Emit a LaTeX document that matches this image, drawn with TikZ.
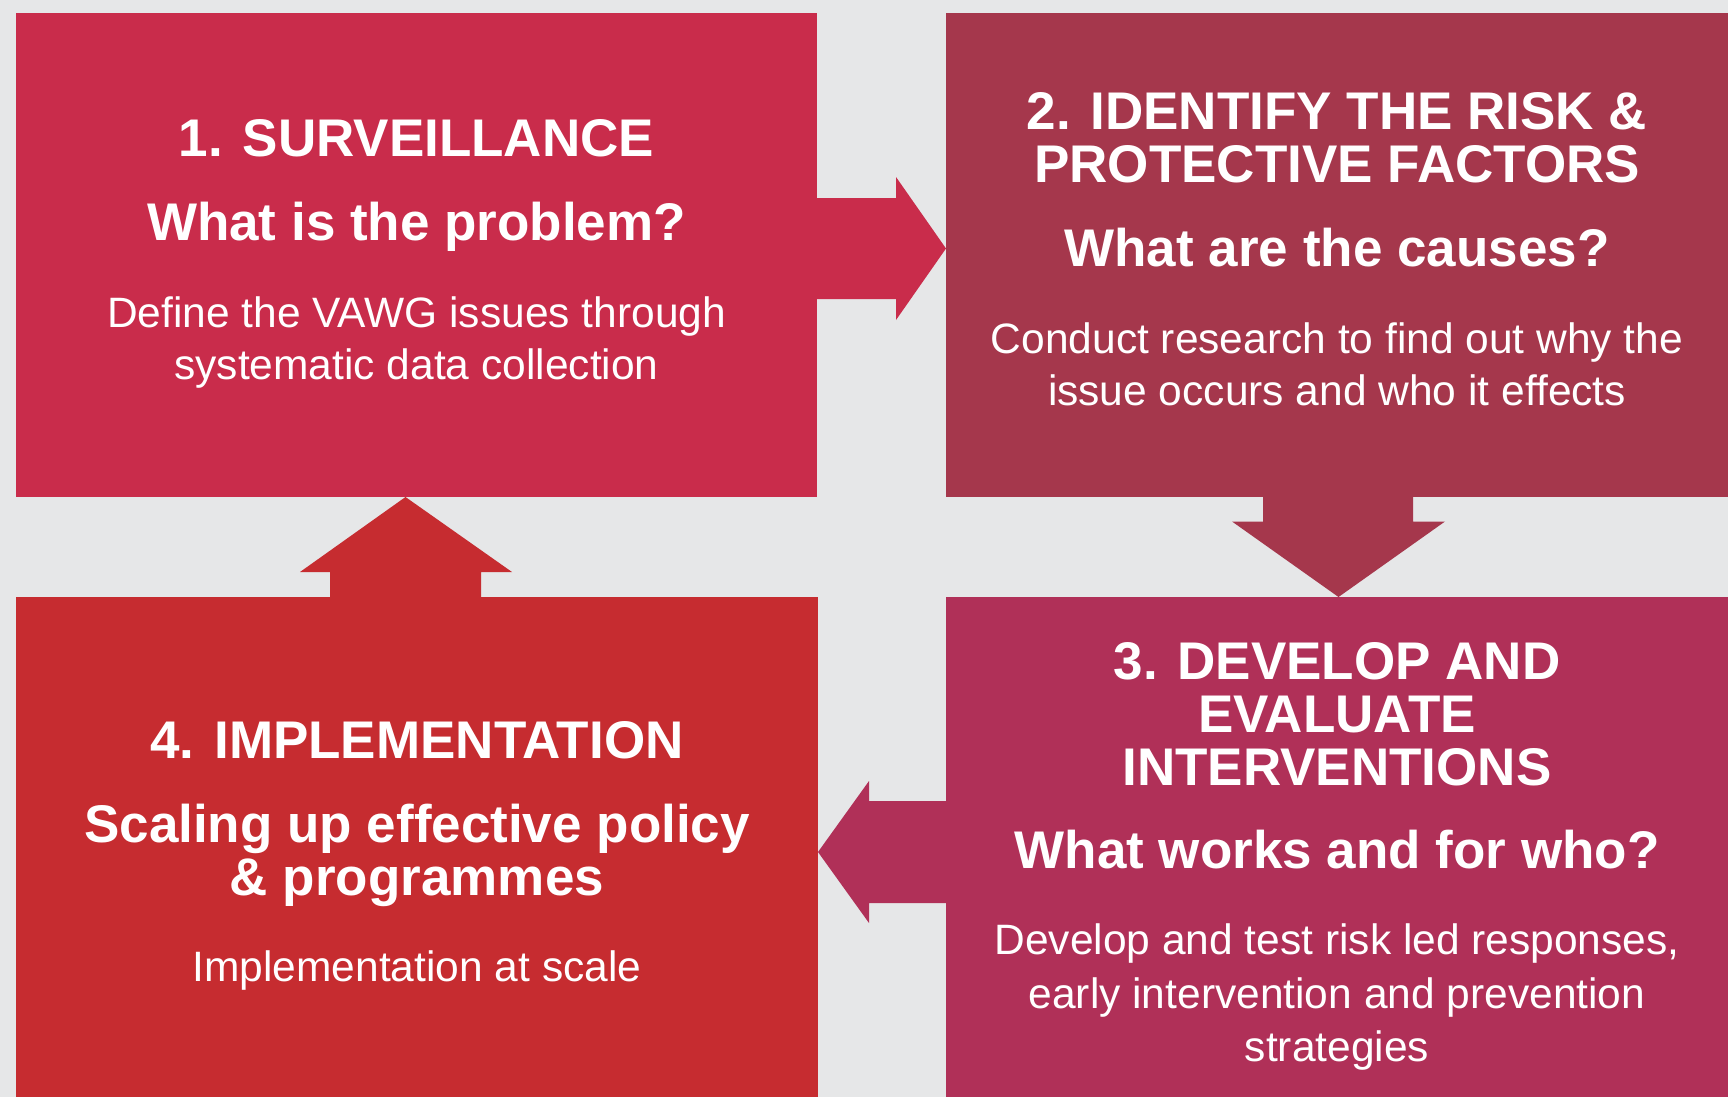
\documentclass[tikz,border=0pt]{standalone}
\usepackage{fontspec}
\setmainfont{Liberation Sans}
\usetikzlibrary{calc}
\definecolor{bg}{HTML}{E6E7E8}
\definecolor{cone}{HTML}{C92C4B}
\definecolor{ctwo}{HTML}{A5374C}
\definecolor{cthree}{HTML}{B03058}
\definecolor{cfour}{HTML}{C62C30}
\tikzset{
  panel/.style={draw=none, inner sep=0pt, outer sep=0pt, anchor=north west},
  ttl/.style={text=white, anchor=base, inner sep=0pt, font=\fontsize{53}{53}\selectfont\bfseries},
  bdy/.style={text=white, anchor=base, inner sep=0pt, font=\fontsize{42.5}{52}\selectfont},
}
\begin{document}
\begin{tikzpicture}[x=1pt,y=-1pt]
\fill[bg] (0,0) rectangle (1728,1097);
\useasboundingbox (0,0) rectangle (1728,1097);
% panels
\node[panel, fill=cone,   minimum width=801pt, minimum height=484pt] (b1) at (16,13) {};
\node[panel, fill=ctwo,   minimum width=782pt, minimum height=484pt] (b2) at (946,13) {};
\node[panel, fill=cthree, minimum width=782pt, minimum height=500pt] (b3) at (946,597) {};
\node[panel, fill=cfour,  minimum width=802pt, minimum height=500pt] (b4) at (16,597) {};
% arrow 1 -> 2
\fill[cone] ($(b1.north east)+(-1,185)$) -- ($(b1.north east)+(79,185)$) -- ($(b1.north east)+(79,164)$)
  -- ($(b2.north west)+(0,235.5)$) -- ($(b1.north east)+(79,307)$) -- ($(b1.north east)+(79,286)$)
  -- ($(b1.north east)+(-1,286)$) -- cycle;
% arrow 2 -> 3
\fill[ctwo] ($(b2.south west)+(317,-1)$) -- ($(b2.south west)+(317,24.5)$) -- ($(b2.south west)+(286,24.5)$)
  -- ($(b3.north west)+(392.5,0)$) -- ($(b2.south west)+(499,24.5)$) -- ($(b2.south west)+(467,24.5)$)
  -- ($(b2.south west)+(467,-1)$) -- cycle;
% arrow 3 -> 4
\fill[cthree] ($(b3.north west)+(1,204)$) -- ($(b3.north west)+(-77,204)$) -- ($(b3.north west)+(-77,184)$)
  -- ($(b4.north east)+(0,255)$) -- ($(b3.north west)+(-77,326)$) -- ($(b3.north west)+(-77,306)$)
  -- ($(b3.north west)+(1,306)$) -- cycle;
% arrow 4 -> 1
\fill[cfour] ($(b4.north west)+(314,1)$) -- ($(b4.north west)+(314,-25)$) -- ($(b4.north west)+(284,-25)$)
  -- ($(b1.south west)+(389.5,0)$) -- ($(b4.north west)+(496,-25)$) -- ($(b4.north west)+(465,-25)$)
  -- ($(b4.north west)+(465,1)$) -- cycle;
% texts box 1
\node[ttl] (t1a) at (416.5,157) {1. SURVEILLANCE};
\node[ttl] (t1q) at (416.5,240) {What is the problem?};
\node[bdy] (t1b) at (416.5,327) {Define the VAWG issues through};
\node[bdy] (t1c) at (416.5,379) {systematic data collection};
% texts box 2
\node[ttl] (t2a) at (1337,130) {2. IDENTIFY THE RISK \&};
\node[ttl] (t2b) at (1337,182) {PROTECTIVE FACTORS};
\node[ttl] (t2q) at (1337,266) {What are the causes?};
\node[bdy] (t2c) at (1337,353) {Conduct research to find out why the};
\node[bdy] (t2d) at (1337,405) {issue occurs and who it effects};
% texts box 3
\node[ttl] (t3a) at (1337,679) {3. DEVELOP AND};
\node[ttl] (t3b) at (1337,732) {EVALUATE};
\node[ttl] (t3c) at (1337,785) {INTERVENTIONS};
\node[ttl] (t3q) at (1337,868) {What works and for who?};
\node[bdy] (t3d) at (1337,954) {Develop and test risk led responses,};
\node[bdy] (t3e) at (1337,1008) {early intervention and prevention};
\node[bdy] (t3f) at (1337,1061) {strategies};
% texts box 4
\node[ttl] (t4a) at (417,758) {4. IMPLEMENTATION};
\node[ttl] (t4q) at (417,842) {Scaling up effective policy};
\node[ttl] (t4r) at (417,895) {\& programmes};
\node[bdy] (t4b) at (417,981) {Implementation at scale};
\end{tikzpicture}
\end{document}
